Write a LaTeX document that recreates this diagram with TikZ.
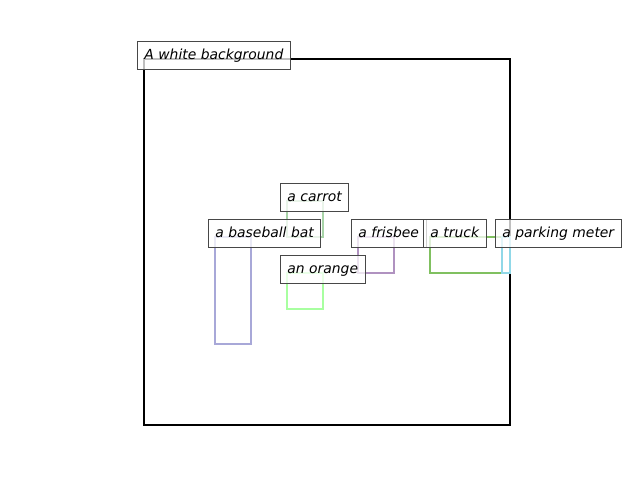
\documentclass[tikz,border=0pt]{standalone}
\usepackage{fontspec}
\setmainfont{DejaVu Sans}
\usepackage{tikz}
\usetikzlibrary{positioning,arrows.meta,calc,backgrounds}
\usepackage{xcolor}
\definecolor{boxgray}{HTML}{474747}
\definecolor{batblue}{HTML}{A8A8D8}
\definecolor{carrotgreen}{HTML}{A8D4A8}
\definecolor{orangegreen}{HTML}{A8FFA0}
\definecolor{frisbeepurple}{HTML}{B092C0}
\definecolor{truckgreen}{HTML}{80C060}
\definecolor{meterblue}{HTML}{90D8E8}

\begin{document}
\begin{tikzpicture}[x=1pt,y=-1pt,
    tag/.style={draw=boxgray,line width=0.9pt,fill=white,fill opacity=0.75,text opacity=1,
      anchor=base west,xshift=-7pt,inner xsep=7pt,inner ysep=7pt,text height=11pt,text depth=3pt,
      font=\fontsize{13.9}{16}\selectfont\itshape},
    region/.style={line width=2pt,line join=miter}]
  \useasboundingbox (0,0) rectangle (640,480);
  % Recuadro de la escena
  \draw[black,region] (144,59) rectangle (510,425);
  % Cajas de objetos
  \foreach \c/\xa/\ya/\xb/\yb in {
    batblue/215/237/251/344, carrotgreen/287/201/323/237,
    orangegreen/287/273/323/309, frisbeepurple/358/237/394/273,
    truckgreen/430/237/502/273, meterblue/502/237/510/273}{
    \draw[\c,region] (\xa,\ya) rectangle (\xb,\yb);}
  % Etiquetas
  \node[tag] (scene) at (144,59) {A white background};
  \node[tag] (carrot) at (287,201) {a carrot};
  \node[tag] (bat) at (215,237) {a baseball bat};
  \node[tag] (frisbee) at (358,237) {a frisbee};
  \node[tag] (truck) at (430,237) {a truck};
  \node[tag] (meter) at (502,237) {a parking meter};
  \node[tag] (orange) at (287,273) {an orange};
\end{tikzpicture}
\end{document}
